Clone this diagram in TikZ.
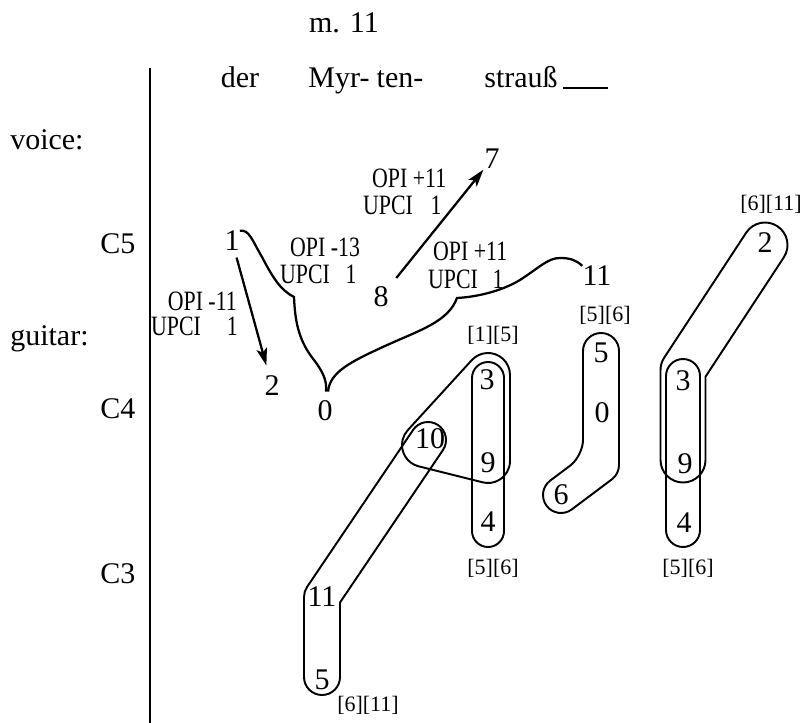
\documentclass[tikz,border=0pt]{standalone}
\usepackage{fontspec}
\setmainfont{Liberation Serif}
\usetikzlibrary{arrows.meta,calc}
\begin{document}
\begin{tikzpicture}[x=0.75pt,y=-0.75pt,
  big/.style={font=\fontsize{22.5}{26}\selectfont, inner sep=0pt},
  pcs/.style={font=\fontsize{16.5}{20}\selectfont, inner sep=0pt},
  opi/.style={font=\fontsize{21}{24}\selectfont, inner sep=0pt, xscale=0.78},
  arr/.style={line width=1.7pt, -{Stealth[length=13pt,width=8pt,inset=3pt]}},
  brace/.style={line width=1.7pt},
  axis/.style={line width=2pt},
  ext/.style={line width=1.8pt},
  hull/.style={line width=1.45pt, line join=round}]
\useasboundingbox (0,0) rectangle (805,723);

% header and lyrics
\node[big] (mnum) at (344,23) {m. 11};
\node[big, anchor=base] (lyr1) at (240,88) {der};
\node[big, anchor=base] (lyr2) at (339,88) {Myr-};
\node[big, anchor=base] (lyr3) at (400,88) {ten-};
\node[big, anchor=base] (lyr4) at (521,88) {strauß};
\draw[ext] ($(lyr4.base east)+(5,0)$) -- ++(45,0);

% left labels and axis
\node[big, anchor=base west] (lvoice) at (10,150) {voice:};
\node[big, anchor=base west] (lguitar) at (10,345) {guitar:};
\node[big, anchor=base west] (lc5) at (100,253) {C5};
\node[big, anchor=base west] (lc4) at (100,418) {C4};
\node[big, anchor=base west] (lc3) at (100,583) {C3};
\draw[axis] (150,68) -- (150,723);

% voice
\node[big] (v1) at (232,241) {1};
\node[big] (v2) at (272,386) {2};
\node[big] (v0) at (325,411) {0};
\node[big] (v8) at (381,297) {8};
\node[big] (v7) at (492,159) {7};
\node[big] (v11) at (597,276) {11};

\draw[arr, shorten <=5pt, shorten >=8pt] (v1) -- (v2);
\draw[arr, shorten <=9pt, shorten >=1pt] (v8) -- (v7);

\draw[brace] (v1.north east) .. controls (249,229) and (252,240) .. (262,257)
  .. controls (272,276) and (280,290) .. (294,297) coordinate (cusp1)
  .. controls (295,320) and (298,340) .. (314,360)
  .. controls (324,373) and (327,382) .. ($(v0.north)+(1,-9)$);
\draw[brace] ($(v0.north)+(3,-9)$) .. controls (330,372) and (350,362) .. (385,346)
  .. controls (420,330) and (448,322) .. (457,298) coordinate (cusp2)
  .. controls (475,297) and (500,292) .. (520,280)
  .. controls (540,267) and (548,258) .. (560,258)
  .. controls (570,258) and (576,260) .. (v11.north west);

\node[opi, anchor=base east] (o1a) at (237,310) {OPI -11};
\node[opi, anchor=base east] (o1b) at (238,335) {UPCI\hspace{25pt}1};
\node[opi, anchor=base west] (o2a) at (290,257) {OPI -13};
\node[opi, anchor=base west] (o2b) at (280,283) {UPCI\hspace{15pt}1};
\node[opi, anchor=base west] (o3a) at (372,188) {OPI +11};
\node[opi, anchor=base west] (o3b) at (363,215) {UPCI\hspace{17pt}1};
\node[opi, anchor=base west] (o4a) at (433,261) {OPI +11};
\node[opi, anchor=base west] (o4b) at (428,288) {UPCI\hspace{14pt}1};

% guitar hulls
% 5-11-10
\draw[hull] (304,677) -- (304,597) arc[start angle=180, end angle=214.03, radius=18]
  -- (413.08,429.93) arc[start angle=214.03, end angle=394.03, radius=18]
  -- (340,602.5) -- (340,677) arc[start angle=0, end angle=180, radius=18] -- cycle;
% 10-3-9
\draw[hull] (407.76,430.15) -- (471.76,360.15) arc[start angle=222.44, end angle=360, radius=22]
  -- (510,461) arc[start angle=0, end angle=104.04, radius=22]
  -- (418.66,466.34) arc[start angle=104.04, end angle=222.44, radius=22] -- cycle;
% 3-9-4 left
\draw[hull] (472,531) -- (472,378) arc[start angle=180, end angle=360, radius=16]
  -- (504,531) arc[start angle=0, end angle=180, radius=16] -- cycle;
% 5-0-6
\draw[hull] (619,351) -- (619,465) arc[start angle=0, end angle=53.13, radius=18]
  -- (571.8,509.4) arc[start angle=53.13, end angle=233.13, radius=18]
  [rounded corners=12] -- (583,456) -- (583,400) [sharp corners] -- (583,351)
  arc[start angle=180, end angle=360, radius=18] -- cycle;
% 3-9-4 right
\draw[hull] (666,530) -- (666,376) arc[start angle=180, end angle=360, radius=17]
  -- (700,530) arc[start angle=0, end angle=180, radius=17] -- cycle;
% 2-3-9
\draw[hull] (660.5,460) -- (660.5,370) arc[start angle=180, end angle=213.27, radius=22.5]
  -- (746.19,232.66) arc[start angle=213.27, end angle=393.27, radius=22.5]
  -- (705.5,376.7) -- (705.5,460) arc[start angle=0, end angle=180, radius=22.5] -- cycle;

% guitar pitch classes
\node[big] (a5) at (322,680) {5};
\node[big] (a11) at (322,597) {11};
\node[big] (a10) at (430,439) {10};
\node[big] (b3) at (487,380) {3};
\node[big] (b9) at (488,463) {9};
\node[big] (b4) at (488,522) {4};
\node[big] (c5) at (601,353) {5};
\node[big] (c0) at (602,413) {0};
\node[big] (c6) at (561,495) {6};
\node[big] (d2) at (765,243) {2};
\node[big] (d3) at (683,381) {3};
\node[big] (d9) at (685,464) {9};
\node[big] (d4) at (684,523) {4};

\node[pcs] (p1) at (771,204) {\relax[6][11]};
\node[pcs] (p2) at (605,315) {\relax[5][6]};
\node[pcs] (p3) at (493,335) {\relax[1][5]};
\node[pcs] (p4) at (493,568) {\relax[5][6]};
\node[pcs] (p5) at (688,568) {\relax[5][6]};
\node[pcs] (p6) at (368,705) {\relax[6][11]};
\end{tikzpicture}
\end{document}
